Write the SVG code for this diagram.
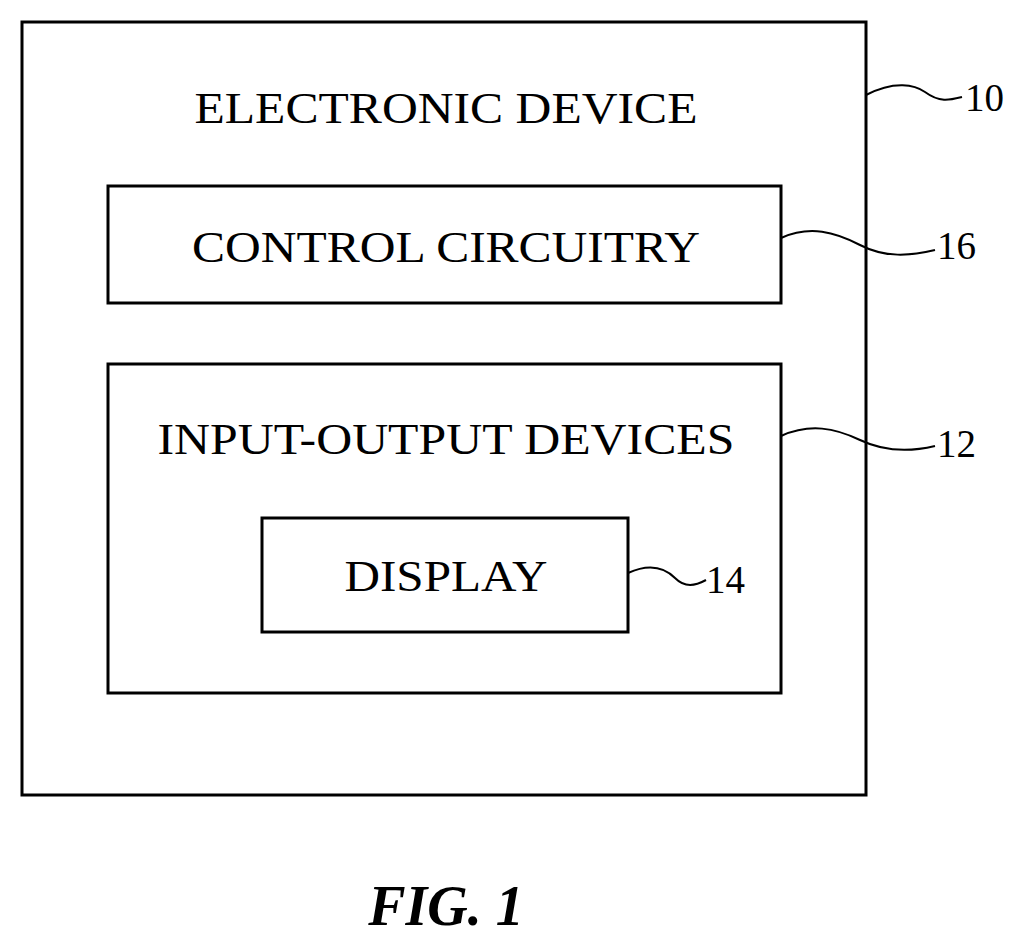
<svg xmlns="http://www.w3.org/2000/svg" width="1023" height="946" viewBox="0 0 1023 946">
<style>
.b{fill:none;stroke:#000;stroke-width:3}
.l{fill:none;stroke:#000;stroke-width:2}
.t{font-family:"Liberation Serif",serif;font-size:45px;text-anchor:middle;fill:#000}
.n{font-family:"Liberation Serif",serif;font-size:39px;fill:#000}
</style>
<rect width="1023" height="946" fill="#fff"/>
<g id="device"><rect class="b" x="22" y="22" width="844" height="773"/><text class="t" x="446" y="123" textLength="503" lengthAdjust="spacingAndGlyphs">ELECTRONIC DEVICE</text></g>
<g id="control"><rect class="b" x="108" y="186" width="673" height="117"/><text class="t" x="446" y="262" textLength="508" lengthAdjust="spacingAndGlyphs">CONTROL CIRCUITRY</text></g>
<g id="io"><rect class="b" x="108" y="364" width="673" height="329"/><text class="t" x="446" y="454" textLength="577" lengthAdjust="spacingAndGlyphs">INPUT-OUTPUT DEVICES</text></g>
<g id="display"><rect class="b" x="262" y="518" width="366" height="114"/><text class="t" x="446" y="591" textLength="203" lengthAdjust="spacingAndGlyphs">DISPLAY</text></g>
<g id="connectors">
<path class="l" d="M866,95 C895,80 915,85 925,92 C940,103 950,100 962,97"/>
<path class="l" d="M781,238 C810,225 835,232 860,245 C885,258 910,256 935,250"/>
<path class="l" d="M781,436 C810,423 835,428 860,440 C885,452 910,452 935,446"/>
<path class="l" d="M628,573 C650,563 665,568 675,578 C685,588 695,586 706,580"/>
</g>
<g id="labels">
<text class="n" x="965" y="111">10</text>
<text class="n" x="937" y="259">16</text>
<text class="n" x="937" y="457">12</text>
<text class="n" x="706" y="593">14</text>
<text x="446" y="925" font-family="Liberation Serif,serif" font-size="56" font-weight="bold" font-style="italic" text-anchor="middle">FIG. 1</text>
</g>
</svg>
